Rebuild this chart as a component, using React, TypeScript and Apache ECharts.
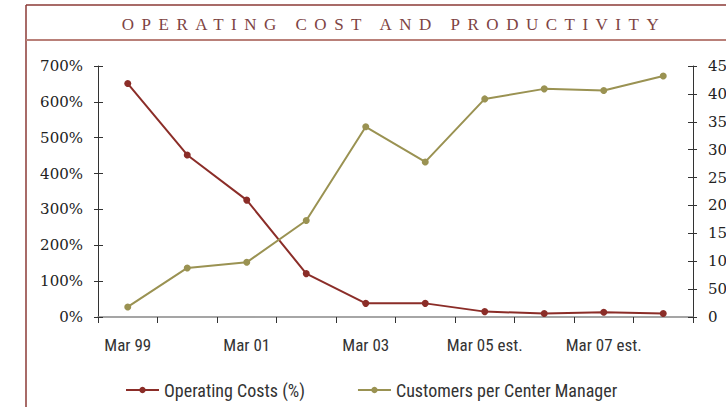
import React, { useEffect, useRef } from "react";
import * as echarts from "echarts";

const categories = ["Mar 99", "Mar 00", "Mar 01", "Mar 02", "Mar 03", "Mar 04", "Mar 05 est.", "Mar 06 est.", "Mar 07 est.", "Mar 08 est."];
const operatingCosts = [651, 452, 326, 121, 38, 38, 15, 10, 13, 10];
const customersPerManager = [18, 88, 98, 173, 341, 278, 391, 409, 406, 432];
const leftTicks = { min: 0, max: 700, interval: 100 };
const rightTicks = { min: 0, max: 450, interval: 50 };
const titleText = "OPERATING COST AND PRODUCTIVITY";
const seriesNames = ["Operating Costs (%)", "Customers per Center Manager"];

const RED = "#8B2D28";
const OLIVE = "#9A9252";
const FRAME = "#8B3A36";
const NARROW = "'Liberation Sans Narrow', 'Arial Narrow', 'Roboto Condensed', sans-serif";
const SERIF = "'DejaVu Serif', serif";

export default function App() {
  const ref = useRef<HTMLDivElement>(null);
  useEffect(() => {
    document.body.style.margin = "0";
    const el = ref.current!;
    const chart = echarts.init(el, null, { renderer: "svg" });
    const tickCross = (pos: "left" | "right", r: any) => ({
      type: "value",
      position: pos,
      min: r.min,
      max: r.max,
      interval: r.interval,
      axisLine: { show: false },
      axisTick: { show: true, inside: true, length: 5, lineStyle: { color: "#333", width: 1 } },
      axisLabel: { show: false },
      splitLine: { show: false },
    });
    chart.setOption({
      animation: false,
      grid: { left: 98, right: 33, top: 66, bottom: 90, containLabel: false, outerBoundsMode: "none" },
      graphic: [
        { type: "line", shape: { x1: 26, y1: 5, x2: 726, y2: 5 }, style: { stroke: FRAME, lineWidth: 1.5 } },
        { type: "line", shape: { x1: 26, y1: 5, x2: 26, y2: 407 }, style: { stroke: FRAME, lineWidth: 1.5 } },
        { type: "line", shape: { x1: 26, y1: 40, x2: 726, y2: 40 }, style: { stroke: "#B98079", lineWidth: 2 } },
        {
          type: "text",
          id: "ttl",
          x: 394,
          y: 24,
          style: {
            text: titleText,
            align: "center",
            verticalAlign: "middle",
            fill: "#7E4444",
            font: "normal 17px 'Liberation Serif', serif",
          },
        },
      ],
      legend: {
        left: 120,
        top: 376,
        itemWidth: 33,
        itemHeight: 8,
        itemGap: 52,
        textStyle: { fontFamily: NARROW, fontSize: 18, color: "#333" },
        data: seriesNames,
      },
      xAxis: {
        type: "category",
        data: categories,
        boundaryGap: true,
        axisLine: { lineStyle: { color: "#888", width: 1.5 } },
        axisTick: { show: true, length: 6, alignWithLabel: false, interval: 0, lineStyle: { color: "#333" } },
        axisLabel: { interval: 1, margin: 19, fontFamily: NARROW, fontSize: 17, color: "#333" },
        splitLine: { show: false },
      },
      yAxis: [
        {
          type: "value",
          position: "left",
          ...leftTicks,
          axisLine: { show: true, lineStyle: { color: "#333", width: 1 } },
          axisTick: { show: true, length: 4, lineStyle: { color: "#333" } },
          axisLabel: { formatter: "{value}%", margin: 15, fontFamily: SERIF, fontSize: 15, color: "#222" },
          splitLine: { show: false },
        },
        {
          type: "value",
          position: "right",
          ...rightTicks,
          axisLine: { show: true, lineStyle: { color: "#333", width: 1 } },
          axisTick: { show: true, length: 4, lineStyle: { color: "#333" } },
          axisLabel: { margin: 15, fontFamily: SERIF, fontSize: 15, color: "#222" },
          splitLine: { show: false },
        },
        tickCross("left", leftTicks),
        tickCross("right", rightTicks),
      ],
      series: [
        {
          name: seriesNames[0],
          type: "line",
          yAxisIndex: 0,
          data: operatingCosts,
          symbol: "circle",
          symbolSize: 7,
          lineStyle: { color: RED, width: 2 },
          itemStyle: { color: RED },
        },
        {
          name: seriesNames[1],
          type: "line",
          yAxisIndex: 1,
          data: customersPerManager,
          symbol: "circle",
          symbolSize: 7,
          lineStyle: { color: OLIVE, width: 2 },
          itemStyle: { color: OLIVE },
        },
      ],
    });
    const spaceTitle = () => {
      el.querySelectorAll("text").forEach((t) => {
        if (t.textContent === titleText) t.setAttribute("letter-spacing", "7.5");
      });
    };
    spaceTitle();
    chart.on("finished", spaceTitle);
    const tm = setTimeout(spaceTitle, 50);
    return () => {
      clearTimeout(tm);
      chart.dispose();
    };
  }, []);
  return <div ref={ref} style={{ position: "absolute", left: 0, top: 0, width: 726, height: 407 }} />;
}
